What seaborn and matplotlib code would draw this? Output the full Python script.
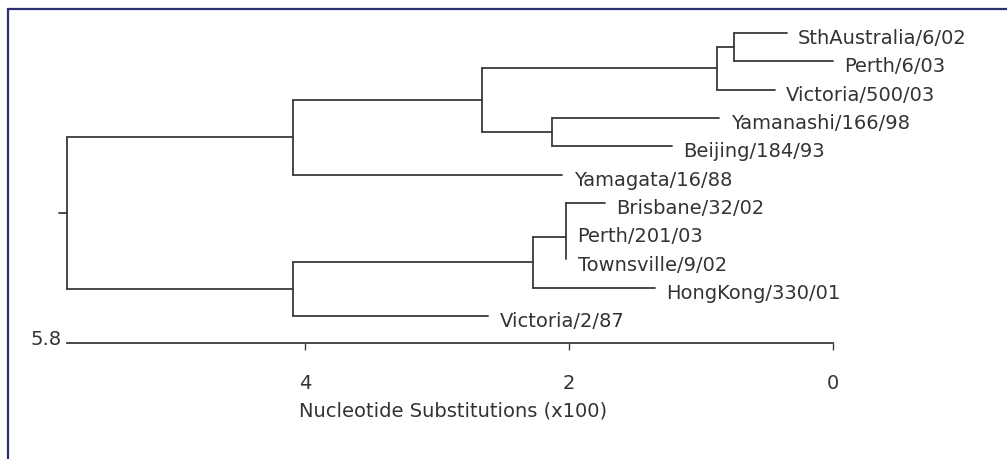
import seaborn as sns
import matplotlib.pyplot as plt
import pandas as pd

# leaves, top to bottom, with their distance from the right-hand edge (x100 substitutions)
leaves = ["SthAustralia/6/02", "Perth/6/03", "Victoria/500/03", "Yamanashi/166/98",
          "Beijing/184/93", "Yamagata/16/88", "Brisbane/32/02", "Perth/201/03",
          "Townsville/9/02", "HongKong/330/01", "Victoria/2/87"]
leaf_height = [0.35, 0.0, 0.44, 0.86, 1.22, 2.05, 1.73, 2.02, 2.02, 1.35, 2.61]

# internal nodes: name, children, height
nodes = ["B", "A", "C", "F", "G", "E", "D", "H", "root"]
node_children = [["SthAustralia/6/02", "Perth/6/03"],
                 ["B", "Victoria/500/03"],
                 ["Yamanashi/166/98", "Beijing/184/93"],
                 ["A", "C"],
                 ["F", "Yamagata/16/88"],
                 ["Brisbane/32/02", "Perth/201/03", "Townsville/9/02"],
                 ["E", "HongKong/330/01"],
                 ["D", "Victoria/2/87"],
                 ["G", "H"]]
node_height = [0.75, 0.88, 2.13, 2.66, 4.09, 2.02, 2.27, 4.09, 5.8]
row_override = {"E": 7.2}  # the polytomy sits a little low in the original

ticks = [4, 2, 0]
tick_labels = ["4", "2", "0"]

height = dict(zip(leaves, leaf_height))
row = {name: i for i, name in enumerate(leaves)}
for n, ch, h in zip(nodes, node_children, node_height):
    height[n] = h
    row[n] = row_override.get(n, (row[ch[0]] + row[ch[-1]]) / 2)

# build segments
segs = []
k = 0
for n, ch in zip(nodes, node_children):
    segs += [(k, height[n], row[ch[0]]), (k, height[n], row[ch[-1]])]
    k += 1
    for c in ch:
        if height[c] != height[n]:
            segs += [(k, height[n], row[c]), (k, height[c], row[c])]
            k += 1
segs += [(k, 5.8, row["root"]), (k, 5.86, row["root"])]
df = pd.DataFrame(segs, columns=["seg", "x", "y"])

sns.set_theme(style="white")
plt.rcParams["font.family"] = ["DejaVu Sans"]

W, H = 1007, 459
fig = plt.figure(figsize=(W / 100, H / 100), dpi=100)
ax = fig.add_axes([0, 0, 1, 1])

ppu = 132.0   # pixels per unit
x0 = 833      # pixel of 0
rh = 28.3     # pixels per row
y0 = 33       # pixel of first leaf
ax.set_xlim(x0 / ppu, -(W - x0) / ppu)
ax.set_ylim((H - y0) / rh, -y0 / rh)

ink = "#3a3a3a"
txt = "#333333"
fs = 14
sns.lineplot(data=df, x="x", y="y", units="seg", estimator=None, sort=False,
             color=ink, linewidth=1.3, ax=ax, legend=False)

for name in leaves:
    ax.text(height[name] - 0.085, row[name] + 0.2, name, ha="left", va="center",
            fontsize=fs, color=txt)

axis_row = (343 - y0) / rh
for s in ["top", "left", "right"]:
    ax.spines[s].set_visible(False)
ax.spines["bottom"].set_position(("data", axis_row))
ax.spines["bottom"].set_bounds(0, 5.8)
ax.spines["bottom"].set_color(ink)
ax.spines["bottom"].set_linewidth(1.3)
ax.set_xticks(ticks)
ax.set_xticklabels(tick_labels)
ax.tick_params(axis="x", bottom=True, direction="out", length=5, width=1,
               color=ink, pad=17.5, labelsize=fs, labelcolor=txt)
ax.set_yticks([])
ax.set_xlabel("Nucleotide Substitutions (x100)", fontsize=fs, color=txt, labelpad=6)
ax.xaxis.label.set_x(453 / W)
ax.set_ylabel("")
ax.text(5.84, (339 - y0) / rh, "5.8", ha="right", va="center", fontsize=fs, color=txt)

fig.add_artist(plt.Rectangle((7.5 / W, -0.1), 1.2, 1 - 9.5 / H + 0.1, transform=fig.transFigure,
                             fill=False, edgecolor="#2a3070", linewidth=1.6))

fig.savefig("out.png", dpi=100)
